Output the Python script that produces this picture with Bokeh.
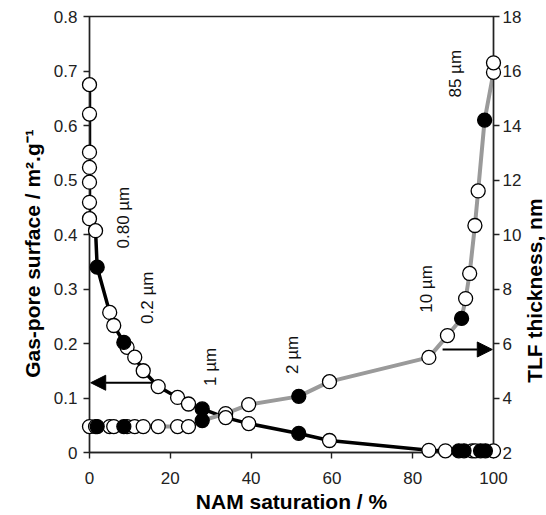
import numpy as np
from bokeh.plotting import figure
from bokeh.models import Range1d, LinearAxis, Arrow, NormalHead, FixedTicker, ColumnDataSource
from bokeh.core.properties import value
from bokeh.embed import file_html
from bokeh.resources import INLINE

# Gas-pore surface (left axis, m2/g) vs NAM saturation (%)
surf_x = [0, 0, 0, 0, 0, 0, 0, 1.5, 1.9, 5.0, 6.0, 8.5, 9.3, 11.2, 13.3, 17.0, 21.8, 24.5,
          27.9, 33.7, 39.4, 51.8, 59.4, 84.0, 88.1, 91.4, 92.7, 94.7, 95.5, 96.8, 98.0, 100]
surf_y = [0.675, 0.621, 0.551, 0.523, 0.496, 0.459, 0.429, 0.407, 0.340, 0.257, 0.233, 0.202,
          0.193, 0.175, 0.150, 0.121, 0.101, 0.089, 0.080, 0.064, 0.053, 0.035, 0.022, 0.004,
          0.003, 0.003, 0.003, 0.003, 0.003, 0.003, 0.003, 0.003]
surf_filled = [False, False, False, False, False, False, False, False, True, False, False, True,
               False, False, False, False, False, False, True, False, False, True, False, False,
               False, True, True, False, False, True, True, False]

# TLF thickness (right axis, nm)
thick_x = [0, 1.5, 1.9, 5.0, 6.0, 8.5, 9.3, 11.2, 13.3, 17.0, 21.8, 24.5, 27.9, 33.7, 39.4,
           51.8, 59.4, 84.0, 88.6, 92.1, 93.1, 94.1, 95.4, 96.2, 97.8, 100, 100]
thick_y = [2.95, 2.95, 2.95, 2.95, 2.95, 2.95, 2.95, 2.95, 2.95, 2.95, 2.95, 2.95, 3.17, 3.43,
           3.76, 4.06, 4.60, 5.49, 6.29, 6.92, 7.65, 8.57, 10.33, 11.6, 14.2, 15.95, 16.3]
thick_filled = [False, False, True, False, False, True, False, False, False, False, False, False,
                True, False, False, True, False, False, False, True, False, False, False, False,
                True, False, False]

# pore-size annotations
ann_text = ["0.80 \u00b5m", "0.2 \u00b5m", "1 \u00b5m", "2 \u00b5m", "10 \u00b5m", "85 \u00b5m"]
ann_x = [8.4, 14.4, 30.0, 50.2, 83.4, 90.6]
ann_y = [0.431, 0.284, 0.157, 0.179, 0.300, 0.695]

x_ticks = [0, 20, 40, 60, 80, 100]
left_ticks = [0, 0.1, 0.2, 0.3, 0.4, 0.5, 0.6, 0.7, 0.8]
right_ticks = [2, 4, 6, 8, 10, 12, 14, 16, 18]

x_title = "NAM saturation / %"
y_titles = ["Gas-pore surface / m\u00b2.g\u207b\u00b9", "TLF thickness, nm"]
y_title_x = [-14.1, 110.1]
y_title_y = [0.365, 0.297]

FONT = "Liberation Sans"
TICK_COLOR = "#222222"

p = figure(width=546, height=515, output_backend="svg", toolbar_location=None,
           x_range=Range1d(0, 100), y_range=Range1d(0, 0.8),
           min_border_left=89, min_border_right=53, min_border_top=16, min_border_bottom=63)
p.extra_y_ranges = {"tlf": Range1d(2, 18)}
p.xgrid.visible = False
p.ygrid.visible = False
p.outline_line_color = "#222222"
p.outline_line_width = 1.4
p.background_fill_color = "white"
p.border_fill_color = "white"

right_axis = LinearAxis(y_range_name="tlf")
p.add_layout(right_axis, "right")

for ax in [p.xaxis[0], p.yaxis[0], right_axis]:
    ax.axis_line_color = "#222222"
    ax.axis_line_width = 1.4
    ax.major_tick_line_color = "#222222"
    ax.major_tick_line_width = 1.4
    ax.major_tick_in = 0
    ax.major_tick_out = 6
    ax.minor_tick_line_color = None
    ax.major_label_text_font = FONT
    ax.major_label_text_font_size = "17px"
    ax.major_label_text_color = TICK_COLOR
    ax.axis_label_text_font = FONT
    ax.axis_label_text_font_size = "21px"
    ax.axis_label_text_font_style = "bold"
    ax.axis_label_text_color = "black"

p.xaxis[0].ticker = FixedTicker(ticks=x_ticks)
p.yaxis[0].ticker = FixedTicker(ticks=left_ticks)
right_axis.ticker = FixedTicker(ticks=right_ticks)
p.yaxis[0].major_label_overrides = {0: "0"}

p.xaxis[0].axis_label = x_title
p.xaxis[0].major_label_standoff = 13
p.xaxis[0].axis_label_standoff = 3
p.yaxis[0].major_label_standoff = 6
right_axis.major_label_standoff = 3

# curves
p.line(surf_x, surf_y, line_color="black", line_width=3.5)
p.line(thick_x, thick_y, line_color="#9a9a9a", line_width=4, y_range_name="tlf")

# markers
def split(xs, ys, flags, want):
    return [x for x, f in zip(xs, flags) if f == want], [y for y, f in zip(ys, flags) if f == want]

sx_o, sy_o = split(surf_x, surf_y, surf_filled, False)
sx_f, sy_f = split(surf_x, surf_y, surf_filled, True)
tx_o, ty_o = split(thick_x, thick_y, thick_filled, False)
tx_f, ty_f = split(thick_x, thick_y, thick_filled, True)

p.scatter(tx_o, ty_o, marker="circle", size=14, fill_color="white", line_color="black",
          line_width=1.3, y_range_name="tlf", level="overlay")
p.scatter(sx_o, sy_o, marker="circle", size=14, fill_color="white", line_color="black",
          line_width=1.3, level="overlay")
p.scatter(tx_f, ty_f, marker="circle", size=14, fill_color="black", line_color="black",
          line_width=1.3, y_range_name="tlf", level="overlay")
p.scatter(sx_f, sy_f, marker="circle", size=14, fill_color="black", line_color="black",
          line_width=1.3, level="overlay")

# arrows pointing to the relevant axes
p.add_layout(Arrow(x_start=15.6, y_start=0.128, x_end=0.3, y_end=0.128, line_width=2,
                   line_color="black",
                   end=NormalHead(size=15, fill_color="black", line_color="black")))
p.add_layout(Arrow(x_start=87.4, y_start=5.78, x_end=99.7, y_end=5.78, line_width=2,
                   line_color="black", y_range_name="tlf",
                   end=NormalHead(size=15, fill_color="black", line_color="black")))

# pore-size labels
src = ColumnDataSource(dict(x=ann_x, y=ann_y, text=ann_text))
p.text(x="x", y="y", text="text", source=src, angle=np.pi / 2, text_align="center",
       text_baseline="middle", text_font=value(FONT), text_font_size="17px",
       text_color="#111111")

# vertical axis titles (reading bottom to top), drawn unclipped outside the frame
tsrc = ColumnDataSource(dict(x=y_title_x, y=y_title_y, text=y_titles))
p.text(x="x", y="y", text="text", source=tsrc, angle=np.pi / 2, text_align="center",
       text_baseline="middle", text_font=value(FONT), text_font_size="21px",
       text_font_style="bold", text_color="black", level="overlay")

open("out.html", "w").write(file_html(p, INLINE))
